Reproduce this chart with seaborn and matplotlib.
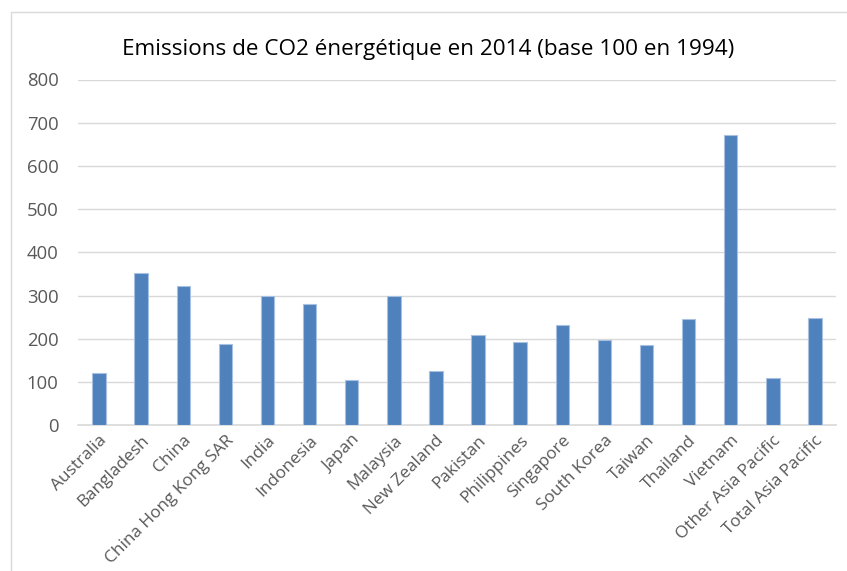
import matplotlib
matplotlib.use("Agg")
import matplotlib.pyplot as plt
import seaborn as sns
import pandas as pd
from matplotlib.patches import Rectangle

countries = ["Australia", "Bangladesh", "China", "China Hong Kong SAR", "India",
             "Indonesia", "Japan", "Malaysia", "New Zealand", "Pakistan",
             "Philippines", "Singapore", "South Korea", "Taiwan", "Thailand",
             "Vietnam", "Other Asia Pacific", "Total Asia Pacific"]
values = [122, 352, 323, 187, 299, 280, 105, 299, 126, 208,
          192, 232, 197, 186, 247, 671, 110, 248]
yticks = [0, 100, 200, 300, 400, 500, 600, 700, 800]
title = "Emissions de CO2 énergétique en 2014 (base 100 en 1994)"

sns.set_theme(style="white")
plt.rcParams['font.family'] = ['Open Sans', 'DejaVu Sans']

df = pd.DataFrame({"country": countries, "value": values})

fig = plt.figure(figsize=(8.47, 5.71), dpi=100)
ax = fig.add_axes([78/847, 1 - 425.3/571, (836-78)/847, (425.3-79.5)/571])

sns.barplot(data=df, x="country", y="value", color="#4F81BD", width=0.32,
            edgecolor="#A9C1E0", linewidth=0.8, saturation=1, ax=ax, zorder=3)

ax.set_xlim(-0.5, len(countries) - 0.5)
ax.set_ylim(0, 800)
ax.set_yticks(yticks)
ax.set_yticklabels([str(v) for v in yticks], fontsize=13.3, color="#595959")
ax.yaxis.grid(True, color="#D9D9D9", linewidth=1.0, zorder=0)
ax.set_axisbelow(True)
for s in ["top", "right", "left"]:
    ax.spines[s].set_visible(False)
ax.spines["bottom"].set_color("#D9D9D9")
ax.spines["bottom"].set_linewidth(1.2)
ax.tick_params(axis="y", length=0, pad=14)
ax.tick_params(axis="x", length=0, pad=5)
ax.set_xticks(range(len(countries)))
ax.set_xticklabels(countries, rotation=45, ha="right", rotation_mode="anchor",
                   fontsize=12.4, color="#595959")
ax.set_xlabel("")
ax.set_ylabel("")

fig.text(428/847, 1 - 49/571, title, ha="center", va="center",
         fontsize=16.2, color="#000000")

fig.patches.append(Rectangle((11/847, -0.1), 1.2, 1 - 12/571 + 0.1,
                             transform=fig.transFigure, fill=False,
                             edgecolor="#D9D9D9", linewidth=1.0))

fig.savefig("out.png", dpi=100, facecolor="white")
